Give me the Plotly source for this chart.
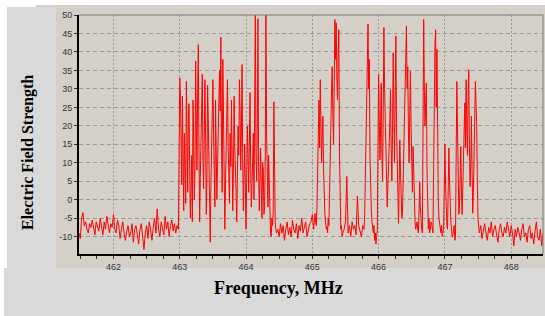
import plotly.graph_objects as go

# Measured field strength (dB scale) in frequency segments: (start MHz, step MHz, values)
noise_a_start, noise_a_step = 461.48, 0.02
noise_a = [-9, -10.5, -5, -3.5, -7, -6, -8, -9, -6.5, -7.5, -5.5, -8, -9.5, -6, -7, -8.5, -5, -7.5, -9.5, -6, -8, -4.5, -7, -9, -6.5,
           -7.5, -4, -8, -9, -5.5, -7, -10.5, -8, -6, -9, -11, -8.5, -7, -10, -9, -6.5, -11.5, -8, -7, -9.5, -12, -8, -6.5, -10, -13.5,
           -9, -7, -10.5, -6, -8, -11, -7.5, -5, -9, -2.5, -8, -10, -6, -7.5, -9.5, -4.5, -8, -6, -10, -7, -5.5, -8.5, -6.5, -9, -7,
           -8]

burst_a_start, burst_a_step = 463.00, 0.01
burst_a = [33, 28, 10, 4, 28, 14, -3, 18, 5, -1, 32, 12, 2, 22, 26, 8, -5, 3, 12, -6,
           27, 15, 0, 9, 37.5, 20, 8, 30, 42, 14, -6, 6, 20, 26, 34, 11, 3, 18, 32.5, 16,
           -4, 5, 31, 22, 10, 1, -11.5, 4, 15, 24, 32.5, 18, 5, -2, 27, 12, 0, 9, 20, 30,
           35, 24, 44, 16, 2, 38, 25, 7, -8, 4, 12, 22, 32.5, 15, 6, -1, 18, 9, 27, 12,
           -3, 8, 28, 14, 10, 2, -6, 8, 20, 12, 32.5, 24, 8, 18, 36.6, 10, -3, 6, 15, 3,
           -8, 6, 20, 12, 2, 15, 29, 9, -2, 4, 10, 18, 0, 22, 51, 12, 5, 20, 49, 8,
           -3, 6, 14, 3, -5, 10, 8, -4, -2, 12, 51, 18, 3, -2, 12, 3.6, -6, -9, -10, -5,
           -7, -3, 26.5, 4, -6, -8, -9]

noise_b_start, noise_b_step = 464.48, 0.02
noise_b = [-8, -10, -6.5, -9, -7, -11, -8, -6, -9.5, -7.5, -10, -5.5, -8, -9, -6.5, -10.5, -7, -8.5, -5, -9, -7.5, -6, -10, -8, -6.5,
           -6, -4, -8]

burst_b_start, burst_b_step = 465.04, 0.01
burst_b = [-3.7, -6, -7, -2, 7.6, 16, 27, 14, 32.5, 20, 10, 18, 22.6, 8, 0, -4, -6, -8, -7.3, -9,
           -5, -7, 1.8, 8, 20, 30, 36, 24, 15, 30, 48.8, 38, 47.9, 33, 27, 40, 46, 12, -3.7, -8,
           -7, -10, -9]

noise_c_start, noise_c_step = 465.48, 0.02
noise_c = [-8, -6, 6.3, -9, -7, -10, -6, -8, -7, -9.5, 1, -7, -9, -10, -7]

burst_c_start, burst_c_step = 465.78, 0.01
burst_c = [-8, -4, 5, 18, 26, 40, 47.5, 30, 38, 12, 2, -3, -6, -8, -9, -7, -11, -9, -12, -10,
           -8, 14, 34, 22, 10.8, 20, 31.6, 12, 5, 25, 46.6, 30, 20, 12, 9, -2, 3.6, 8, 15, 22,
           29.8, 14, 5, 18, 39.8, 24, 10, 28, 44.3, 20, 9, 0, -6.4, 4, 16.2, 8, 2, -5, -3.7, 5,
           12, 20, 26.2, 38, 47, 30, 36, 18, 10, 24, 34.8, 20, 8, 2, 14.4, 6, -3.7, -6, -8, -7,
           -6, -8, -9, -3, 4.9, -2, -7, -8, -9, 20, 48.8, 30, 20, 26, 31.6, 8, -7, -8, -5, -9,
           -8, -6, -6.5, -8, -9, 8, 30, 42, 46, 25, 40.7, 12, 0, -5, -7]

burst_d_start, burst_d_step = 466.93, 0.01
burst_d = [-8, -9, -7, -10, -9, -8, 2, 15, 4, -3, -7, -8, 3, 14, 5, -2, -6, -8, -10, -9.5,
           -8, -7, -11, -10, 12, 32, 20, 8, -4, -2, 6, 14.4, 2, -4, 3, 10, 18, 26.2, 14, 32.5,
           20, 12, 28, 35.2, 15, 3.6, 10, 22.6, 8, -3.7, 2, 10, 24, 32, 26, 20, 4, -5.5]

noise_e_start, noise_e_step = 467.52, 0.02
noise_e = [-9, -7, -10.5, -8, -6.5, -9, -11, -7.5, -9, -6, -10, -8, -7, -9.5, -11.5, -8, -6.5, -9, -10, -7.5, -9, -6, -8.5,
           -10, -7, -9, -12.5, -8, -10, -7.5, -9, -11, -8, -6.5, -10, -9, -11.5, -8, -7, -10.5, -9, -12, -8.5, -6, -10, -11, -8, -12.5,
           -9]

segments = [
    (noise_a_start, noise_a_step, noise_a),
    (burst_a_start, burst_a_step, burst_a),
    (noise_b_start, noise_b_step, noise_b),
    (burst_b_start, burst_b_step, burst_b),
    (noise_c_start, noise_c_step, noise_c),
    (burst_c_start, burst_c_step, burst_c),
    (burst_d_start, burst_d_step, burst_d),
    (noise_e_start, noise_e_step, noise_e),
]
freqs, levels = [], []
for start, step, vals in segments:
    for i, v in enumerate(vals):
        freqs.append(round(start + step * i, 4))
        levels.append(v)

x_ticks = [462, 463, 464, 465, 466, 467, 468]
y_ticks = [-10, -5, 0, 5, 10, 15, 20, 25, 30, 35, 40, 45, 50]
y_ticktext = [str(v) for v in y_ticks]

fig = go.Figure()
fig.add_trace(go.Scatter(x=freqs, y=levels, mode="lines",
                         line=dict(color="#ff0000", width=1), showlegend=False))

beige = "#d4d0c8"
lgray = "#d9d9d9"
shapes = [
    dict(type="rect", xref="paper", yref="paper", x0=-0.0927, x1=1.02, y0=-0.0586, y1=1.0418,
         fillcolor=beige, line=dict(width=0), layer="below"),
    dict(type="rect", xref="paper", yref="paper", x0=-0.1552, x1=-0.0496, y0=-0.0586, y1=1.0335,
         fillcolor=lgray, line=dict(width=0), layer="below"),
    dict(type="rect", xref="paper", yref="paper", x0=-0.1616, x1=1.02, y0=-0.28, y1=-0.0586,
         fillcolor=lgray, line=dict(width=0), layer="below"),
    dict(type="line", xref="paper", yref="paper", x0=0, x1=1, y0=1, y1=1,
         line=dict(color="#7a7a7a", width=1)),
    dict(type="line", xref="paper", yref="paper", x0=1, x1=1, y0=0, y1=1,
         line=dict(color="#7a7a7a", width=1)),
]

fig.update_layout(
    width=545, height=316,
    margin=dict(l=79, r=2, t=15, b=62),
    paper_bgcolor="white", plot_bgcolor=beige,
    shapes=shapes,
    font=dict(family="Liberation Sans, Arial, sans-serif", size=9, color="#333333"),
    xaxis=dict(range=[461.48, 468.48], tickvals=x_ticks, ticks="outside", ticklen=3,
               tickcolor="#333333", showline=True, linecolor="black", linewidth=2,
               showgrid=True, gridcolor="#9a9a9a", griddash="2px,2px", gridwidth=1,
               zeroline=False,
               minor=dict(dtick=0.25, tick0=462, ticks="outside", ticklen=3, tickcolor="#333333",
                          showgrid=False)),
    yaxis=dict(range=[-14.7, 50], tickvals=y_ticks, ticktext=y_ticktext, ticks="outside", ticklen=3,
               tickcolor="#333333", showline=True, linecolor="black", linewidth=2,
               showgrid=True, gridcolor="#9a9a9a", griddash="4px,3px", gridwidth=1,
               zeroline=False),
    annotations=[
        dict(text="<b>Electric Field Strength</b>", xref="paper", yref="paper", x=-0.1099, y=0.4226,
             textangle=-90, showarrow=False, xanchor="center", yanchor="middle",
             font=dict(family="Liberation Serif, Times New Roman, serif", size=16, color="black")),
        dict(text="<b>Frequency, MHz</b>", xref="paper", yref="paper", x=0.4289, y=-0.1423,
             showarrow=False, xanchor="center", yanchor="middle",
             font=dict(family="Liberation Serif, Times New Roman, serif", size=18, color="black")),
    ],
)

fig.write_html("out.html", config={"displayModeBar": False},
               post_script="document.body.style.margin='0px';")
